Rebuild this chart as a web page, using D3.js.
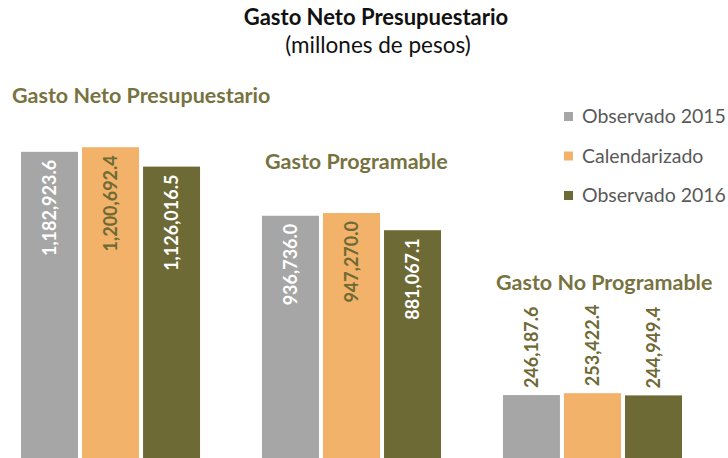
<!DOCTYPE html>
<html>
<head>
<meta charset="utf-8">
<script src="https://cdn.jsdelivr.net/npm/d3@7"></script>
<style>
  body { margin: 0; background: #fff; }
  svg { display: block; font-family: Lato, "Open Sans", sans-serif; }
</style>
</head>
<body>
<div id="chart"></div>
<script>
"use strict";

// data
const groups = ["Gasto Neto Presupuestario", "Gasto Programable", "Gasto No Programable"];
const seriesNames = ["Observado 2015", "Calendarizado", "Observado 2016"];
const observado2015 = [1182923.6, 936736.0, 246187.6];
const calendarizado = [1200692.4, 947270.0, 253422.4];
const observado2016 = [1126016.5, 881067.1, 244949.4];
const seriesColors = ["#a6a6a6", "#f2b26a", "#6e6a35"];
const labelColors = ["#ffffff", "#6e6a35", "#ffffff"];

const width = 728, height = 458;
const baseline = 459;

const svg = d3.select("#chart").append("svg")
    .attr("width", width)
    .attr("height", height);

// main title
svg.append("text")
    .attr("x", 376).attr("y", 25)
    .attr("text-anchor", "middle")
    .style("font-size", "22px").style("font-weight", "bold")
    .attr("fill", "#111")
    .text("Gasto Neto Presupuestario");

svg.append("text")
    .attr("x", 378).attr("y", 53)
    .attr("text-anchor", "middle")
    .style("font-size", "22.5px")
    .attr("fill", "#111")
    .text("(millones de pesos)");

const values = [observado2015, calendarizado, observado2016];
const table = groups.map((g, i) => ({
    group: g,
    bars: seriesNames.map((s, j) => ({ series: s, idx: j, value: values[j][i] }))
}));

const x0 = d3.scaleBand().domain(groups).range([21, 682]).paddingInner(0.257);
const x1 = d3.scaleBand().domain(seriesNames).range([0, x0.bandwidth()]).paddingInner(0.066);
const y = d3.scaleLinear().domain([0, 1300000]).range([baseline, baseline - 1300000 / 3851]);

const fmt = d3.format(",.1f");

const g = svg.selectAll("g.group")
    .data(table)
    .join("g")
    .attr("class", "group")
    .attr("transform", d => `translate(${x0(d.group)},0)`);

g.selectAll("rect")
    .data(d => d.bars)
    .join("rect")
    .attr("x", d => x1(d.series))
    .attr("y", d => y(d.value))
    .attr("width", x1.bandwidth())
    .attr("height", d => baseline - y(d.value))
    .attr("fill", d => seriesColors[d.idx]);

// value labels, vertical; the small group puts them above the bars
g.each(function (d, gi) {
    const outside = gi === 2;
    d3.select(this).selectAll("text.val")
        .data(d.bars)
        .join("text")
        .attr("class", "val")
        .attr("transform", b => `translate(${x1(b.series) + x1.bandwidth() / 2},${outside ? y(b.value) - 7 : y(b.value) + 8}) rotate(-90)`)
        .attr("dy", "0.35em")
        .attr("text-anchor", outside ? "start" : "end")
        .style("font-size", "18px").style("font-weight", "bold")
        .attr("fill", b => outside ? "#6e6a35" : labelColors[b.idx])
        .text(b => fmt(b.value));
});

// group titles
const groupTitlePos = [[12, 103], [265, 169], [496, 290]];
svg.selectAll("text.gtitle")
    .data(groups)
    .join("text")
    .attr("class", "gtitle")
    .attr("x", (d, i) => groupTitlePos[i][0])
    .attr("y", (d, i) => groupTitlePos[i][1])
    .style("font-size", "21.5px").style("font-weight", "bold")
    .attr("fill", "#77733f")
    .text(d => d);

// legend
const legend = svg.append("g").attr("transform", "translate(564,112)");
const item = legend.selectAll("g")
    .data(seriesNames)
    .join("g")
    .attr("transform", (d, i) => `translate(0,${i * 39.5})`);
item.append("rect")
    .attr("width", 9).attr("height", 9)
    .attr("fill", (d, i) => seriesColors[i]);
item.append("text")
    .attr("x", 18).attr("y", 11)
    .style("font-size", "19.5px")
    .attr("fill", "#595959")
    .text(d => d);
</script>
</body>
</html>
